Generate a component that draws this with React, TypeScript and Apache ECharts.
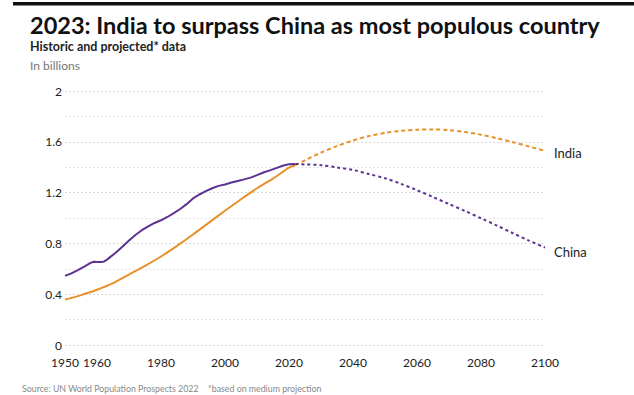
import React, { useEffect, useRef } from "react";
import * as echarts from "echarts";

const chinaHistYears = [1950, 1952, 1954, 1956, 1958, 1959, 1960, 1961, 1962, 1963, 1964, 1966, 1968, 1970, 1972, 1974, 1976, 1978, 1980, 1982, 1984, 1986, 1988, 1990, 1992, 1994, 1996, 1998, 2000, 2002, 2004, 2006, 2008, 2010, 2012, 2014, 2016, 2018, 2020, 2022];
const chinaHistValues = [0.544, 0.564, 0.59, 0.617, 0.647, 0.656, 0.654, 0.653, 0.655, 0.67, 0.69, 0.73, 0.775, 0.822, 0.866, 0.904, 0.934, 0.961, 0.982, 1.008, 1.039, 1.071, 1.109, 1.154, 1.185, 1.211, 1.234, 1.253, 1.264, 1.28, 1.292, 1.304, 1.318, 1.338, 1.358, 1.375, 1.393, 1.411, 1.424, 1.426];

const indiaHistYears = [1950, 1955, 1960, 1965, 1970, 1975, 1980, 1985, 1990, 1995, 2000, 2005, 2010, 2015, 2020, 2022];
const indiaHistValues = [0.357, 0.393, 0.435, 0.487, 0.555, 0.623, 0.697, 0.781, 0.87, 0.964, 1.057, 1.148, 1.234, 1.31, 1.396, 1.417];

const projYears = [2022, 2025, 2030, 2035, 2040, 2045, 2050, 2055, 2060, 2065, 2070, 2075, 2080, 2085, 2090, 2095, 2100];
const chinaProjValues = [1.426, 1.422, 1.416, 1.398, 1.378, 1.346, 1.313, 1.269, 1.219, 1.165, 1.11, 1.055, 0.998, 0.94, 0.88, 0.822, 0.767];
const indiaProjValues = [1.417, 1.454, 1.515, 1.566, 1.61, 1.646, 1.67, 1.686, 1.695, 1.697, 1.692, 1.677, 1.656, 1.628, 1.597, 1.563, 1.529];

const xTickLabels = [1950, 1960, 1980, 2000, 2020, 2040, 2060, 2080, 2100];

const CHINA = "#5b3290";
const INDIA = "#e8902a";
const FONT = "Lato";

const pairs = (xs: number[], ys: number[]) => xs.map((x, i) => [x, ys[i]]);

export default function App() {
  const ref = useRef<HTMLDivElement>(null);
  useEffect(() => {
    document.body.style.margin = "0";
    const chart = echarts.init(ref.current!, null, { renderer: "svg" });
    chart.setOption({
      animation: false,
      backgroundColor: "#ffffff",
      textStyle: { fontFamily: FONT },
      title: [
        {
          text: "2023: India to surpass China as most populous country",
          left: 30,
          top: 13,
          padding: 0,
          textStyle: { fontFamily: FONT, fontSize: 23.5, fontWeight: "bold", color: "#111" },
        },
        {
          text: "Historic and projected* data",
          left: 30,
          top: 40,
          padding: 0,
          textStyle: { fontFamily: FONT, fontSize: 12.5, fontWeight: "bold", color: "#222" },
        },
        {
          text: "In billions",
          left: 30,
          top: 59,
          padding: 0,
          textStyle: { fontFamily: FONT, fontSize: 12, fontWeight: "normal", color: "#777" },
        },
      ],
      graphic: [
        { type: "rect", shape: { x: 13, y: 2, width: 621, height: 3.5 }, style: { fill: "#111" } },
        {
          type: "text",
          x: 22,
          y: 388,
          style: { text: "Source: UN World Population Prospects 2022", font: `8.8px ${FONT}`, fill: "#888", textVerticalAlign: "middle" },
        },
        {
          type: "text",
          x: 208,
          y: 388,
          style: { text: "*based on medium projection", font: `8.8px ${FONT}`, fill: "#888", textVerticalAlign: "middle" },
        },
      ],
      grid: { left: 65, right: 89, top: 91, bottom: 50, containLabel: false },
      xAxis: {
        type: "value",
        min: 1950,
        max: 2100,
        axisLine: { show: false },
        axisTick: { show: false },
        splitLine: { show: false },
        axisLabel: {
          customValues: xTickLabels,
          color: "#222",
          fontSize: 12,
          fontFamily: FONT,
          margin: 11,
          formatter: (v: number) => String(v),
        },
      },
      yAxis: {
        type: "value",
        min: 0,
        max: 2,
        interval: 0.4,
        axisLine: { show: false },
        axisTick: { show: false },
        axisLabel: {
          color: "#222",
          fontSize: 12,
          fontFamily: FONT,
          margin: 3,
          formatter: (v: number) => String(+v.toFixed(1)),
        },
        splitLine: { show: true, lineStyle: { color: "#d8d8d8", type: [2, 2], width: 1 } },
        minorTick: { show: false, splitNumber: 2 },
        minorSplitLine: { show: true, lineStyle: { color: "#e4e4e4", type: [2, 2], width: 1 } },
      },
      series: [
        {
          name: "India",
          type: "line",
          data: pairs(indiaHistYears, indiaHistValues),
          symbol: "none",
          lineStyle: { color: INDIA, width: 2 },
          smooth: 0.2,
        },
        {
          name: "China",
          type: "line",
          data: pairs(chinaHistYears, chinaHistValues),
          symbol: "none",
          lineStyle: { color: CHINA, width: 2 },
        },
        {
          name: "India",
          type: "line",
          data: pairs(projYears, indiaProjValues),
          symbol: "none",
          smooth: 0.3,
          lineStyle: { color: INDIA, width: 2, type: [4, 3] },
          endLabel: { show: true, formatter: "India", color: "#222", fontSize: 13, fontFamily: FONT, distance: 9, offset: [0, 2] },
        },
        {
          name: "China",
          type: "line",
          data: pairs(projYears, chinaProjValues),
          symbol: "none",
          smooth: 0.3,
          lineStyle: { color: CHINA, width: 2, type: [3, 3] },
          endLabel: { show: true, formatter: "China", color: "#222", fontSize: 13, fontFamily: FONT, distance: 9, offset: [0, 4] },
        },
      ],
    });
    return () => chart.dispose();
  }, []);
  return <div ref={ref} style={{ width: 634, height: 395 }} />;
}
